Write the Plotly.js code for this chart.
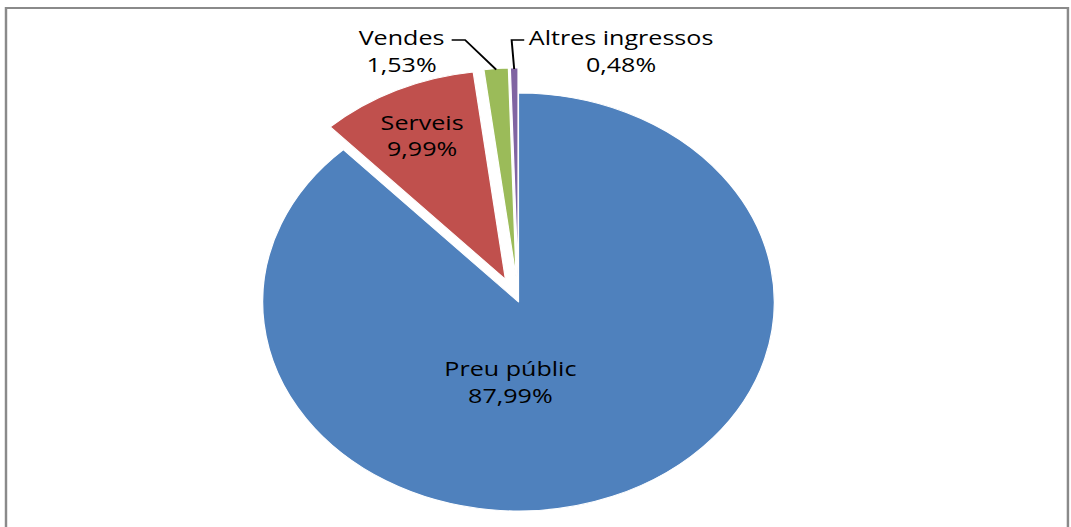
<!DOCTYPE html>
<html>
<head>
<meta charset="utf-8">
<script src="https://cdn.plot.ly/plotly-3.0.1.min.js"></script>
<style>
  html, body { margin: 0; padding: 0; overflow: hidden; background: #ffffff; }
  #chart { width: 875px; height: 600px; transform-origin: 0 0; }
</style>
</head>
<body>
<div id="chart"></div>
<script>
// ---- data ----
const labels = ['Preu públic', 'Serveis', 'Vendes', 'Altres ingressos'];
const values = [87.99, 9.99, 1.53, 0.48];
const colors = ['#4F81BD', '#C0504D', '#9BBB59', '#8064A2'];
const pulls = [0, 0.12, 0.12, 0.12];
const textPositions = ['none', 'inside', 'none', 'none'];

// ---- layout geometry (pre-stretch pixel space) ----
const W = 875, H = 600, STRETCH = 1071 / 875;
const CX = 423.6, CY = 302, R = 209;
const maxPull = Math.max(...pulls);
const half = R * (1 + maxPull);
const px = x => x / W;
const py = y => 1 - y / H;

const FONT = { family: 'Open Sans, Lato, sans-serif', size: 20.5, color: '#000000' };

// labels placed as annotations (large slice + small outside slices)
const placedLabels = [
  { idx: 0, cx: 416.7, cy: 381 },
  { idx: 2, cx: 328, cy: 50, start: [369, 40], elbow: [380, 40] },
  { idx: 3, cx: 508, cy: 50, start: [428.3, 40], elbow: [418, 40] }
];

const fmt = v => v.toFixed(2).replace('.', ',') + '%';
const total = values.reduce((a, b) => a + b, 0);

function tipOf(i) {
  let before = 0;
  for (let k = 0; k < i; k++) before += values[k];
  const mid = (before + values[i] / 2) / total * 2 * Math.PI; // clockwise from top
  const rr = R * (1 + pulls[i]) - 1;
  return [CX + rr * Math.sin(mid), CY - rr * Math.cos(mid)];
}

const annotations = [];
const shapes = [{
  type: 'rect', xref: 'paper', yref: 'paper',
  x0: px(4.9), x1: px(872.5), y0: -0.1, y1: py(8),
  line: { color: '#8a8a8a', width: 2 }, fillcolor: 'rgba(0,0,0,0)'
}];

placedLabels.forEach(o => {
  annotations.push({
    xref: 'paper', yref: 'paper', x: px(o.cx), y: py(o.cy),
    xanchor: 'center', yanchor: 'middle', showarrow: false,
    text: labels[o.idx] + '<br>' + fmt(values[o.idx]),
    font: FONT
  });
  if (o.start) {
    const t = tipOf(o.idx);
    shapes.push({
      type: 'path', xref: 'paper', yref: 'paper',
      path: 'M' + px(o.start[0]) + ',' + py(o.start[1]) +
            ' L' + px(o.elbow[0]) + ',' + py(o.elbow[1]) +
            ' L' + px(t[0]) + ',' + py(t[1]),
      line: { color: '#000000', width: 1.6 }
    });
  }
});

const trace = {
  type: 'pie',
  labels: labels,
  values: values,
  sort: false,
  direction: 'clockwise',
  rotation: 0,
  pull: pulls,
  marker: { colors: colors, line: { color: '#ffffff', width: 1 } },
  textposition: textPositions,
  texttemplate: '%{label}<br>%{value:.2f}%',
  insidetextorientation: 'horizontal',
  insidetextfont: FONT,
  textfont: FONT,
  hoverinfo: 'label+value',
  domain: { x: [px(CX - half), px(CX + half)], y: [py(CY + half), py(CY - half)] }
};

const layout = {
  width: W, height: H,
  margin: { l: 0, r: 0, t: 0, b: 0 },
  paper_bgcolor: '#ffffff',
  plot_bgcolor: '#ffffff',
  separators: ',.',
  showlegend: false,
  annotations: annotations,
  shapes: shapes
};

Plotly.newPlot('chart', [trace], layout, { displayModeBar: false, staticPlot: true }).then(() => {
  document.getElementById('chart').style.transform = 'scaleX(' + STRETCH + ')';
});
</script>
</body>
</html>
